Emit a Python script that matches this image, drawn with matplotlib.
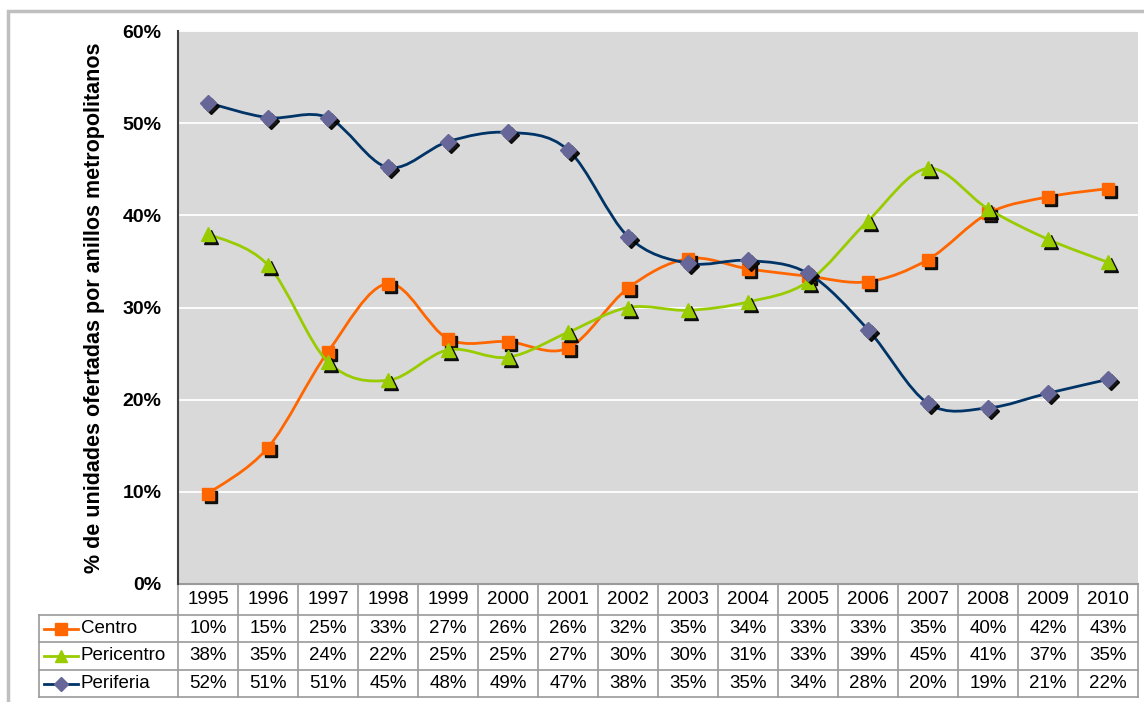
import matplotlib.pyplot as plt
import numpy as np
from matplotlib.path import Path
from matplotlib.patches import PathPatch
from matplotlib import transforms
from matplotlib.lines import Line2D

# datos (%)
years = ['1995', '1996', '1997', '1998', '1999', '2000', '2001', '2002',
         '2003', '2004', '2005', '2006', '2007', '2008', '2009', '2010']
centro = [9.8, 14.8, 25.2, 32.6, 26.6, 26.3, 25.6, 32.1,
          35.3, 34.2, 33.4, 32.8, 35.2, 40.2, 42.0, 42.9]
pericentro = [38.0, 34.6, 24.1, 22.1, 25.4, 24.6, 27.3, 30.0,
              29.7, 30.6, 32.8, 39.4, 45.1, 40.7, 37.4, 34.9]
periferia = [52.2, 50.6, 50.6, 45.2, 48.0, 49.0, 47.1, 37.7,
             34.8, 35.1, 33.7, 27.6, 19.6, 19.1, 20.7, 22.2]
series_names = ['Centro', 'Pericentro', 'Periferia']
y_ticks = [0, 10, 20, 30, 40, 50, 60]

# estilo de cada serie: color de línea, marcador, color de marcador, tamaño
styles = {
    'Centro': ('#FF6600', 's', '#FF6600', 9),
    'Pericentro': ('#99CC00', '^', '#99CC00', 10),
    'Periferia': ('#003366', 'D', '#666699', 8),
}
series_values = {'Centro': centro, 'Pericentro': pericentro, 'Periferia': periferia}


def smooth_path(xs, ys):
    """Curva suavizada tipo Excel (Bezier Catmull-Rom) que pasa por los puntos"""
    pts = np.column_stack([xs, ys]).astype(float)
    n = len(pts)
    verts = [pts[0]]
    codes = [Path.MOVETO]
    for i in range(n - 1):
        p0 = pts[i - 1] if i > 0 else pts[i]
        p1 = pts[i]
        p2 = pts[i + 1]
        p3 = pts[i + 2] if i + 2 < n else pts[i + 1]
        c1 = p1 + (p2 - p0) / 6.0
        c2 = p2 - (p3 - p1) / 6.0
        verts += [c1, c2, p2]
        codes += [Path.CURVE4] * 3
    return Path(verts, codes)


plt.rcParams['font.family'] = ['Liberation Sans', 'DejaVu Sans']
fig = plt.figure(figsize=(11.44, 7.02), dpi=100)

# marco exterior
fig.patches.append(plt.Rectangle((8 / 1144, -0.1), 1.2, 1 - 11 / 702 + 0.1,
                                 transform=fig.transFigure, fill=False,
                                 edgecolor='#BFBFBF', linewidth=2.5))

ax = fig.add_axes([178 / 1144, 1 - 584 / 702, 960 / 1144, 553 / 702])
ax.set_facecolor('#D9D9D9')
ax.set_xlim(-0.5, len(years) - 0.5)
ax.set_ylim(0, 60)
ax.set_yticks(y_ticks)
ax.set_yticklabels([f'{t}%' for t in y_ticks], fontsize=14, fontweight='bold')
ax.tick_params(axis='y', length=0, pad=12)
ax.set_xticks([])
ax.grid(axis='y', color='white', linewidth=1.3)
ax.set_axisbelow(True)
for s in ['top', 'right', 'bottom']:
    ax.spines[s].set_visible(False)
ax.spines['left'].set_color('#404040')
ax.spines['left'].set_linewidth(1.5)

ax.set_ylabel('% de unidades ofertadas por anillos metropolitanos',
              fontsize=15.5, fontweight='bold')
ax.yaxis.set_label_coords(-0.076, 0.5)

x = np.arange(len(years))
shadow = transforms.offset_copy(ax.transData, fig=fig, x=3, y=-3, units='dots')
z = 3
for name in series_names:
    lc, mk, mc, ms = styles[name]
    vals = series_values[name]
    ax.add_patch(PathPatch(smooth_path(x, vals), fill=False, edgecolor=lc,
                           linewidth=2, zorder=z))
    ax.plot(x, vals, linestyle='none', marker=mk, markersize=ms,
            color='black', alpha=0.9, transform=shadow, zorder=z + 0.1)
    ax.plot(x, vals, linestyle='none', marker=mk, markersize=ms,
            color=mc, markeredgecolor=mc, zorder=z + 0.2)
    z += 1

# tabla de datos bajo el eje
H = 553.0
W = 960.0
rows_px = [0, 31, 58, 86, 113]
rows = [-r / H for r in rows_px]
grid_c = '#9A9A9A'
xt = ax.get_xaxis_transform()
leg_left = (39 - 178) / W

# líneas horizontales
ax.plot([0, 1], [rows[0]] * 2, transform=ax.transAxes, color=grid_c, lw=1.5, clip_on=False)
for r in rows[1:]:
    ax.plot([leg_left, 1], [r, r], transform=ax.transAxes, color=grid_c, lw=1.2, clip_on=False)
# líneas verticales
for i in range(len(years) + 1):
    ax.plot([i - 0.5, i - 0.5], [rows[0], rows[-1]], transform=xt,
            color=grid_c, lw=1.2, clip_on=False)
ax.plot([leg_left, leg_left], [rows[1], rows[-1]], transform=ax.transAxes,
        color=grid_c, lw=1.2, clip_on=False)

# encabezado con años
ymid = (rows[0] + rows[1]) / 2
for i, yr in enumerate(years):
    ax.text(i, ymid, yr, transform=xt, ha='center', va='center', fontsize=13.5)

# filas de series
for k, name in enumerate(series_names):
    lc, mk, mc, ms = styles[name]
    ym = (rows[k + 1] + rows[k + 2]) / 2
    ax.add_line(Line2D([(44 - 178) / W, (78 - 178) / W], [ym, ym],
                       transform=ax.transAxes, color=lc, lw=2, clip_on=False))
    ax.add_line(Line2D([(61 - 178) / W], [ym], transform=ax.transAxes,
                       marker=mk, markersize=ms - 1, color=mc,
                       markeredgecolor=mc, clip_on=False))
    ax.text((81 - 178) / W, ym, name, transform=ax.transAxes,
            ha='left', va='center', fontsize=13.5)
    for i, v in enumerate(series_values[name]):
        ax.text(i, ym, f'{v:.0f}%', transform=xt, ha='center',
                va='center', fontsize=13.5)

plt.savefig('out.png', dpi=100)
